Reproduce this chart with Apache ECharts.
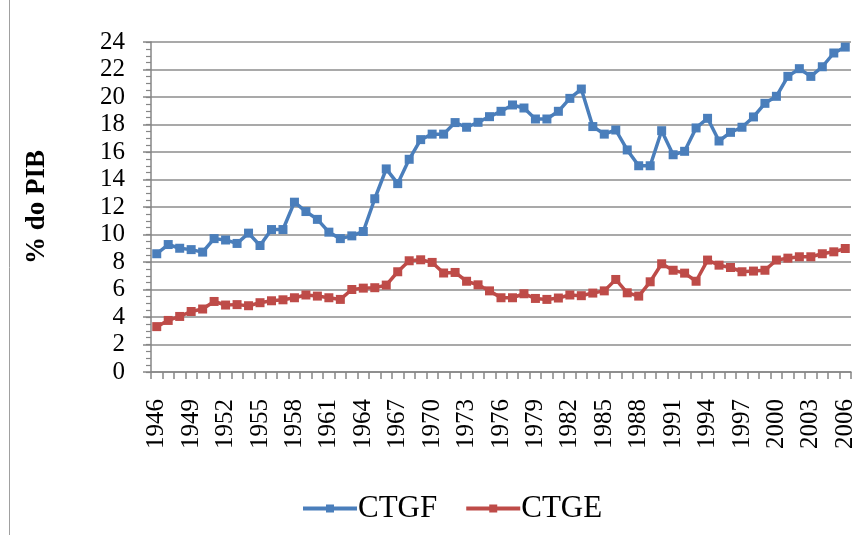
<!DOCTYPE html>
<html lang="pt">
<head>
    <meta charset="UTF-8">
    <title>CTGF e CTGE</title>
    <style>
        html, body { margin: 0; padding: 0; background: #fff; }
        #main { width: 867px; height: 535px; }
    </style>
    <script src="https://cdn.jsdelivr.net/npm/echarts@6/dist/echarts.min.js"></script>
</head>
<body>
    <div id="main"></div>
    <script type="text/javascript">
        // anos 1946 - 2006
        var years = [];
        for (var y = 1946; y <= 2006; y++) years.push(String(y));

        var ctgf = [
            8.6, 9.27, 9.0, 8.9, 8.72, 9.7, 9.6, 9.35, 10.1, 9.2,
            10.36, 10.36, 12.35, 11.67, 11.1, 10.17, 9.7, 9.9, 10.22, 12.6,
            14.77, 13.7, 15.47, 16.9, 17.3, 17.3, 18.14, 17.8, 18.16, 18.57,
            18.96, 19.42, 19.2, 18.4, 18.4, 18.96, 19.9, 20.58, 17.85, 17.3,
            17.6, 16.15, 15.0, 15.0, 17.55, 15.8, 16.05, 17.75, 18.45, 16.8,
            17.43, 17.8, 18.55, 19.54, 20.05, 21.5, 22.06, 21.5, 22.2, 23.2,
            23.63
        ];
        var ctge = [
            3.3, 3.75, 4.04, 4.4, 4.58, 5.13, 4.87, 4.9, 4.82, 5.04,
            5.18, 5.25, 5.4, 5.6, 5.52, 5.4, 5.28, 6.0, 6.1, 6.13,
            6.32, 7.29, 8.09, 8.16, 7.97, 7.2, 7.24, 6.6, 6.34, 5.9,
            5.4, 5.4, 5.69, 5.35, 5.28, 5.38, 5.6, 5.55, 5.74, 5.9,
            6.73, 5.76, 5.52, 6.56, 7.87, 7.4, 7.19, 6.6, 8.14, 7.77,
            7.6, 7.29, 7.34, 7.4, 8.14, 8.28, 8.38, 8.38, 8.6, 8.74,
            8.98
        ];

        var serif = '"Liberation Serif", "DejaVu Serif", serif';
        var chart = echarts.init(document.getElementById('main'));

        var option = {
            animation: false,
            backgroundColor: '#fff',
            graphic: [{
                type: 'line',
                shape: { x1: 9.5, y1: 0, x2: 9.5, y2: 535 },
                style: { stroke: '#a0a0a0', lineWidth: 1 }
            }],
            grid: { left: 151, right: 16, top: 42, bottom: 163 },
            legend: {
                top: 488,
                left: 296,
                itemWidth: 54,
                itemHeight: 10,
                itemGap: 27,
                lineStyle: { width: 4 },
                textStyle: { fontFamily: serif, fontSize: 31, color: '#000', padding: [0, 0, 0, -4] },
                data: ['CTGF', 'CTGE']
            },
            xAxis: {
                type: 'category',
                data: years,
                boundaryGap: true,
                axisLine: { lineStyle: { color: '#868686', width: 1.5 } },
                axisTick: { show: true, interval: 0, length: 7, lineStyle: { color: '#868686', width: 1.5 } },
                axisLabel: {
                    interval: 2,
                    rotate: 90,
                    margin: 27,
                    fontFamily: serif,
                    fontSize: 25,
                    color: '#000'
                },
                splitLine: { show: false }
            },
            yAxis: [{
                type: 'value',
                min: 0,
                max: 24,
                interval: 2,
                name: '% do PIB',
                nameLocation: 'middle',
                nameGap: 100,
                nameRotate: 90,
                nameTextStyle: { fontFamily: serif, fontSize: 27, fontWeight: 'bold', color: '#000' },
                axisLine: { show: true, lineStyle: { color: '#868686', width: 1.5 } },
                axisTick: { show: true, length: 8, lineStyle: { color: '#868686', width: 1.5 } },
                axisLabel: { fontFamily: serif, fontSize: 25, color: '#000', margin: 26 },
                splitLine: { show: true, lineStyle: { color: '#8c8c8c', width: 1.5 } }
            }, {
                // minor ticks every 0.5
                type: 'value',
                position: 'left',
                min: 0,
                max: 24,
                interval: 0.5,
                axisLine: { show: false },
                axisTick: { show: true, length: 5, lineStyle: { color: '#868686', width: 1.2 } },
                axisLabel: { show: false },
                splitLine: { show: false }
            }],
            series: [{
                name: 'CTGF',
                type: 'line',
                data: ctgf,
                symbol: 'rect',
                symbolSize: 9,
                showAllSymbol: true,
                color: '#4a7ebb',
                lineStyle: { width: 3.5 }
            }, {
                name: 'CTGE',
                type: 'line',
                data: ctge,
                symbol: 'rect',
                symbolSize: 9,
                showAllSymbol: true,
                color: '#be4b48',
                lineStyle: { width: 3.5 }
            }]
        };

        chart.setOption(option);
    </script>
</body>
</html>
